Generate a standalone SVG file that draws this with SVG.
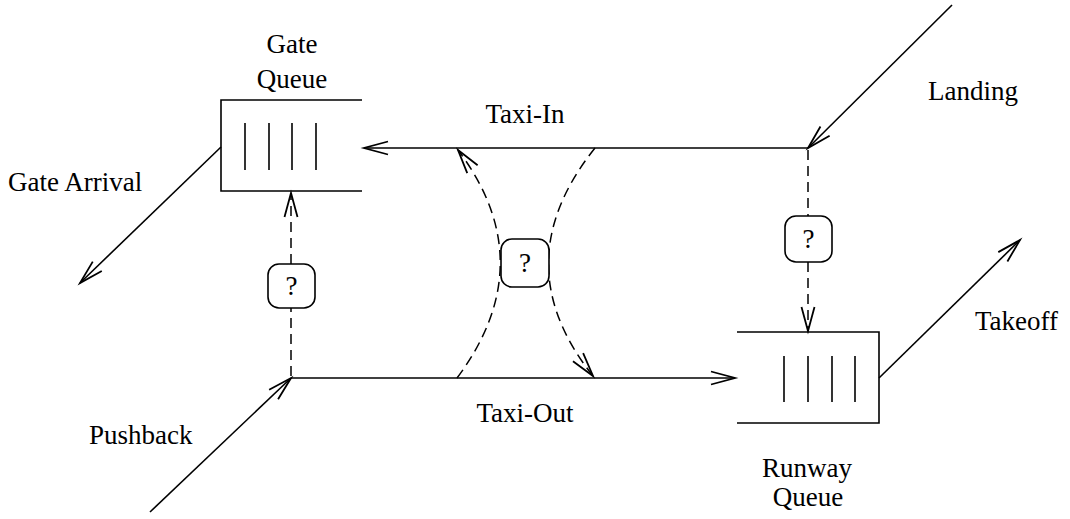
<svg xmlns="http://www.w3.org/2000/svg" width="1070" height="519" viewBox="0 0 1070 519">
<style>
text{font-family:"Liberation Serif","Times New Roman",serif;font-size:27px;fill:#000}
.ln{fill:none;stroke:#000;stroke-width:1.6}
.ds{fill:none;stroke:#000;stroke-width:1.5;stroke-dasharray:10 6}
.q{fill:#fff;stroke:#000;stroke-width:1.6}
.bar{stroke:#000;stroke-width:1.6}
</style>
<defs>
<marker id="ah" markerUnits="userSpaceOnUse" viewBox="-26 -9 28 18" refX="0" refY="0" markerWidth="28" markerHeight="18" orient="auto" overflow="visible">
<path d="M-24,-6.5 L0,0 L-24,6.5" fill="none" stroke="#000" stroke-width="1.8"/>
</marker>
</defs>
<g id="connectors">
<path class="ln" d="M808,148 L364,148" marker-end="url(#ah)"/>
<path class="ln" d="M952,5 L808,148" marker-end="url(#ah)"/>
<path class="ln" d="M221,147 L80,283" marker-end="url(#ah)"/>
<path class="ln" d="M150,512 L291,378" marker-end="url(#ah)"/>
<path class="ln" d="M291,378 L735,378" marker-end="url(#ah)"/>
<path class="ln" d="M879,378 L1020,240" marker-end="url(#ah)"/>
<path class="ds" d="M291,376 L291,193" marker-end="url(#ah)"/>
<path class="ds" d="M808,150 L808,331" marker-end="url(#ah)"/>
<path class="ds" d="M457,378 Q543,263 458,150" marker-end="url(#ah)"/>
<path class="ds" d="M595,148 Q503,263 593,376" marker-end="url(#ah)"/>
</g>
<g id="gate-queue">
<path class="ln" d="M362,100 L221,100 L221,191 L362,191"/>
<line class="bar" x1="245" y1="123" x2="245" y2="170"/>
<line class="bar" x1="269" y1="123" x2="269" y2="170"/>
<line class="bar" x1="292" y1="123" x2="292" y2="170"/>
<line class="bar" x1="316" y1="123" x2="316" y2="170"/>
<text x="292" y="53" text-anchor="middle">Gate</text>
<text x="292" y="88" text-anchor="middle">Queue</text>
</g>
<g id="runway-queue">
<path class="ln" d="M737,332 L879,332 L879,423 L737,423"/>
<line class="bar" x1="784" y1="356" x2="784" y2="402"/>
<line class="bar" x1="808" y1="356" x2="808" y2="402"/>
<line class="bar" x1="832" y1="356" x2="832" y2="402"/>
<line class="bar" x1="855" y1="356" x2="855" y2="402"/>
<text x="807" y="477" text-anchor="middle">Runway</text>
<text x="808" y="506" text-anchor="middle">Queue</text>
</g>
<g id="q-left">
<rect class="q" x="268" y="264" width="47" height="44" rx="11"/>
<text x="291.5" y="295" text-anchor="middle">?</text>
</g>
<g id="q-mid">
<rect class="q" x="501" y="239" width="48" height="48" rx="11"/>
<text x="525" y="272" text-anchor="middle">?</text>
</g>
<g id="q-right">
<rect class="q" x="785" y="216" width="47" height="46" rx="11"/>
<text x="808.5" y="248" text-anchor="middle">?</text>
</g>
<g id="labels">
<text x="525" y="123" text-anchor="middle">Taxi-In</text>
<text x="525" y="422" text-anchor="middle">Taxi-Out</text>
<text x="928" y="100">Landing</text>
<text x="8" y="191">Gate Arrival</text>
<text x="89" y="444">Pushback</text>
<text x="975" y="330">Takeoff</text>
</g>
</svg>
